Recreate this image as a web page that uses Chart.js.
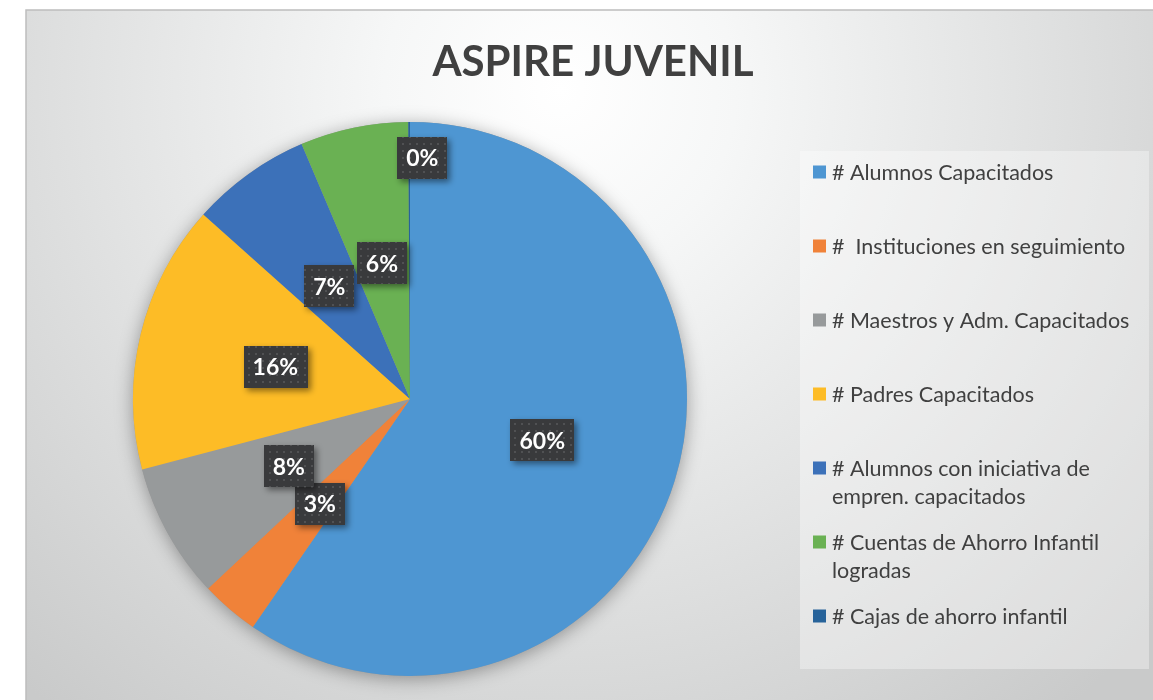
<!DOCTYPE html>
<html>
<head>
<meta charset="utf-8">
<script src="https://cdn.jsdelivr.net/npm/chart.js@4.4.1/dist/chart.umd.min.js"></script>
<style>
html,body{margin:0;padding:0;background:#fff;}
#wrap{position:relative;width:1153px;height:700px;}
</style>
</head>
<body>
<div id="wrap"><canvas id="c" width="1153" height="700"></canvas></div>
<script>
const chartTitle = 'ASPIRE JUVENIL';
const categories = [
  '# Alumnos Capacitados',
  '#  Instituciones en seguimiento',
  '# Maestros y Adm. Capacitados',
  '# Padres Capacitados',
  ['# Alumnos con iniciativa de', 'empren. capacitados'],
  ['# Cuentas de Ahorro Infantil', 'logradas'],
  '# Cajas de ahorro infantil'
];
const values = [59.6, 3.4, 7.9, 15.7, 7.0, 6.3, 0.1];
const sliceColors = ['#4e96d2', '#f08239', '#979a9b', '#fdbc26', '#3c71b9', '#6ab153', '#27639a'];

const FRAME = {x: 26, y: 10};

const backgroundPlugin = {
  id: 'bg',
  beforeDraw(chart) {
    const ctx = chart.ctx, W = chart.width, H = chart.height;
    ctx.save();
    ctx.fillStyle = '#ffffff';
    ctx.fillRect(0, 0, W, H);
    const g = ctx.createRadialGradient(560, 90, 0, 560, 90, 800);
    g.addColorStop(0, '#ffffff');
    g.addColorStop(0.22, '#f6f7f7');
    g.addColorStop(0.55, '#e3e4e4');
    g.addColorStop(1, '#c9caca');
    ctx.fillStyle = g;
    ctx.fillRect(FRAME.x, FRAME.y, W - FRAME.x + 5, H - FRAME.y + 5);
    ctx.strokeStyle = '#bdbdbd';
    ctx.lineWidth = 1.5;
    ctx.strokeRect(FRAME.x, FRAME.y, W - FRAME.x + 10, H - FRAME.y + 10);
    // title
    ctx.fillStyle = '#404040';
    ctx.font = 'bold 42px Lato, "Open Sans", sans-serif';
    ctx.textAlign = 'center';
    ctx.textBaseline = 'middle';
    ctx.fillText(chartTitle, 593, 62);
    ctx.restore();
  },
  beforeDatasetsDraw(chart) {
    const arc = chart.getDatasetMeta(0).data[0];
    if (!arc) return;
    const ctx = chart.ctx;
    ctx.save();
    ctx.shadowColor = 'rgba(0,0,0,0.35)';
    ctx.shadowBlur = 18;
    ctx.shadowOffsetY = 3;
    ctx.fillStyle = '#999';
    ctx.beginPath();
    ctx.arc(arc.x, arc.y, arc.outerRadius, 0, Math.PI * 2);
    ctx.fill();
    ctx.restore();
  }
};

function makeDotPattern(ctx) {
  const p = document.createElement('canvas');
  p.width = 7; p.height = 7;
  const pc = p.getContext('2d');
  pc.fillStyle = '#393a3c';
  pc.fillRect(0, 0, 7, 7);
  pc.fillStyle = '#505153';
  pc.fillRect(3, 3, 2, 2);
  return ctx.createPattern(p, 'repeat');
}

const labelPlugin = {
  id: 'sliceLabels',
  afterDatasetsDraw(chart) {
    const ctx = chart.ctx;
    const meta = chart.getDatasetMeta(0);
    const data = chart.data.datasets[0].data;
    const total = data.reduce((a, b) => a + b, 0);
    const pat = makeDotPattern(ctx);
    ctx.save();
    ctx.font = 'bold 23px Lato, "Open Sans", sans-serif';
    ctx.textAlign = 'center';
    ctx.textBaseline = 'middle';
    meta.data.forEach((el, i) => {
      const frac = data[i] / total;
      const txt = Math.round(frac * 100) + '%';
      const mid = (el.startAngle + el.endAngle) / 2;
      const tw = ctx.measureText(txt).width;
      const bw = tw + 18, bh = 42;
      let cx, cy;
      if (frac < 0.01) {
        const r = el.outerRadius * 0.87;
        const px = el.x + Math.cos(mid) * r;
        cy = el.y + Math.sin(mid) * r;
        cx = px - 12 + bw / 2;
      } else {
        const r = el.outerRadius * 0.5;
        cx = el.x + Math.cos(mid) * r;
        cy = el.y + Math.sin(mid) * r;
      }
      ctx.save();
      ctx.shadowColor = 'rgba(0,0,0,0.45)';
      ctx.shadowBlur = 6;
      ctx.shadowOffsetX = 3;
      ctx.shadowOffsetY = 3;
      ctx.fillStyle = pat;
      ctx.fillRect(Math.round(cx - bw / 2), Math.round(cy - bh / 2), Math.round(bw), bh);
      ctx.restore();
      ctx.fillStyle = '#ffffff';
      ctx.fillText(txt, cx, cy + 1);
    });
    ctx.restore();
  }
};

const legendPlugin = {
  id: 'customLegend',
  afterDraw(chart) {
    const ctx = chart.ctx;
    const labels = chart.data.labels;
    const cols = chart.data.datasets[0].backgroundColor;
    ctx.save();
    ctx.fillStyle = 'rgba(255,255,255,0.35)';
    ctx.fillRect(800, 151, 349, 518);
    ctx.font = '21.5px Lato, "Open Sans", sans-serif';
    ctx.textBaseline = 'middle';
    ctx.textAlign = 'left';
    labels.forEach((lab, i) => {
      const y = 172 + i * 74;
      ctx.fillStyle = cols[i];
      ctx.fillRect(813, y - 6.5, 13, 13);
      ctx.fillStyle = '#404040';
      const lines = Array.isArray(lab) ? lab : [lab];
      lines.forEach((ln, j) => ctx.fillText(ln, 832, y + 1 + j * 28.5));
    });
    ctx.restore();
  }
};

new Chart(document.getElementById('c'), {
  type: 'pie',
  data: {
    labels: categories,
    datasets: [{
      data: values,
      backgroundColor: sliceColors,
      borderWidth: 0,
      offset: 0
    }]
  },
  options: {
    responsive: false,
    animation: false,
    layout: {padding: {left: 133, right: 466, top: 122, bottom: 24}},
    plugins: {
      legend: {display: false},
      title: {display: false},
      tooltip: {enabled: false}
    }
  },
  plugins: [backgroundPlugin, labelPlugin, legendPlugin]
});
</script>
</body>
</html>
